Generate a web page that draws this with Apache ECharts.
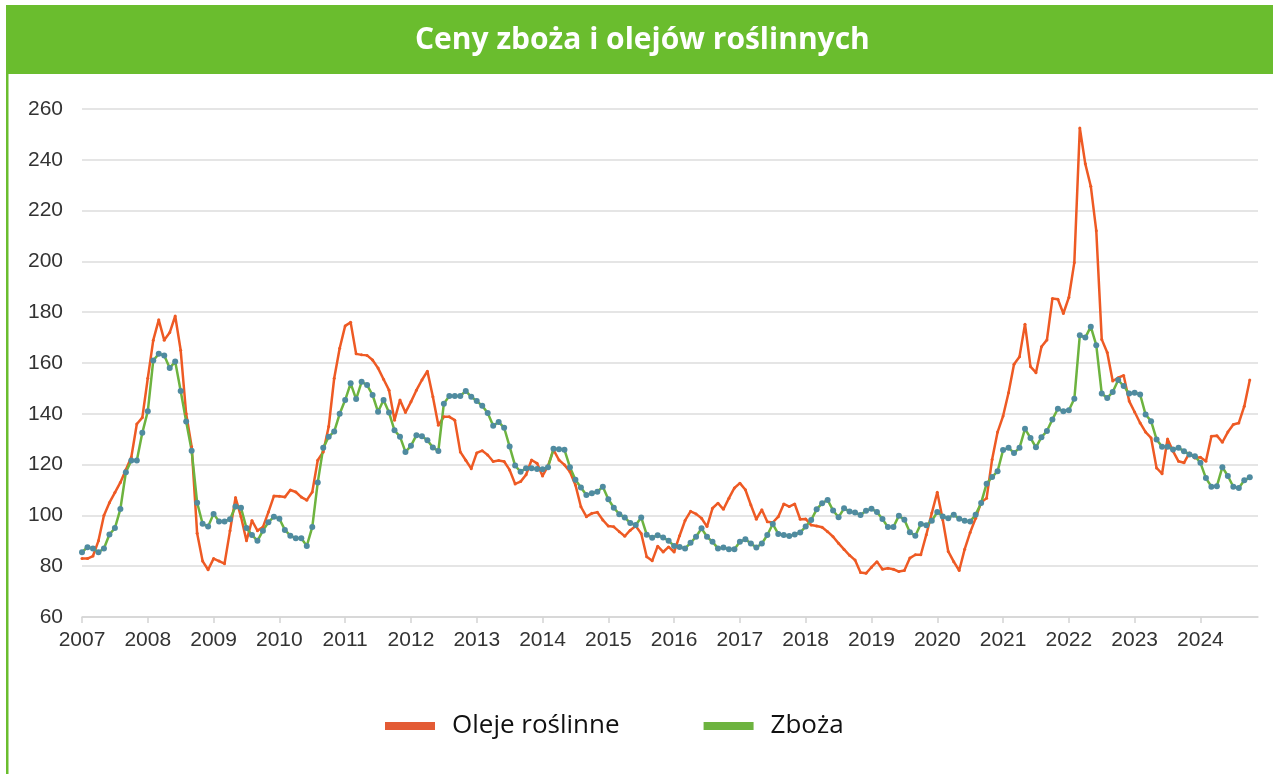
<!DOCTYPE html>
<html lang="pl">
<head>
<meta charset="utf-8">
<title>Ceny zboża i olejów roślinnych</title>
<script src="https://cdn.jsdelivr.net/npm/echarts@6.0.0/dist/echarts.min.js"></script>
<style>
  html, body { margin: 0; padding: 0; background: #fff; }
  #chart { width: 1273px; height: 774px; }
</style>
</head>
<body>
<div id="chart"></div>
<script>
// miesięczne indeksy cen, styczeń 2007 - październik 2024
const lata = [2007, 2008, 2009, 2010, 2011, 2012, 2013, 2014, 2015, 2016, 2017, 2018, 2019, 2020, 2021, 2022, 2023, 2024]

const oleje = [
  83, 83, 84, 90, 100, 105, 109, 113, 118, 123, 136, 138.5,
  154, 169, 177, 169, 172, 178.5, 165, 140, 127, 93, 82, 78.6,
  83, 82, 81, 94, 107, 99.5, 90, 98, 94, 95.4, 101.3, 107.6,
  107.5, 107.2, 110, 109.2, 107.2, 106, 109.2, 121.7, 125, 135, 154, 165.8,
  174.6, 176, 163.6, 163.2, 163, 161.2, 158, 153.6, 149.3, 137.5, 145.4, 140.5,
  144.7, 149.3, 153.3, 156.8, 146.7, 135.5, 138.8, 138.8, 137.5, 125, 121.7, 118.4,
  124.6, 125.5, 123.8, 121.2, 121.6, 121.2, 117.9, 112.4, 113.3, 116, 121.8, 120.5,
  115.5, 119.5, 125.8, 121.8, 119.9, 117.2, 112, 103.4, 99.5, 100.8, 101.2, 98.2,
  95.8, 95.5, 93.6, 91.8, 94.2, 95.8, 92.9, 83.7, 82.1, 87.9, 85.6, 87.6,
  85.6, 92, 98, 101.6, 100.6, 98.9, 95.6, 102.8, 104.8, 102.4, 106.8, 110.8,
  112.7, 110.1, 104.1, 98.5, 102.2, 97.5, 97.2, 99.5, 104.5, 103.5, 104.5, 98.5,
  98.6, 96.2, 95.8, 95.3, 93.6, 91.6, 89, 86.6, 84.3, 82.4, 77.5, 77.2,
  79.6, 81.8, 78.8, 79.2, 78.8, 77.9, 78.3, 83.2, 84.5, 84.5, 92.4, 100.9,
  109.1, 98.3, 85.8, 81.8, 78.3, 86.7, 93.3, 98.9, 105.1, 106.8, 122, 132.8,
  139.1, 148.3, 159.5, 162.5, 175.3, 158.6, 156.2, 166.4, 169.1, 185.4, 185.1, 179.5,
  185.8, 199.6, 252.5, 238.4, 229.6, 212.1, 169.3, 164.1, 152.9, 154.2, 155.1, 145,
  140.7, 136.4, 132.8, 130.5, 118.7, 116.4, 130.1, 125.3, 121.3, 120.7, 124.6, 122.6,
  122.9, 121.3, 131.2, 131.4, 128.8, 132.8, 135.8, 136.4, 143, 153.3
]

const zboza = [
  85.5, 87.5, 87, 85.5, 87, 92.5, 95, 102.5, 117, 121.6, 121.6, 132.5,
  141, 161, 163.6, 163, 158, 160.6, 149, 137, 125.5, 105, 96.7, 95.6,
  100.6, 97.6, 97.6, 98.5, 103.5, 103, 95, 92.3, 90, 94, 97.3, 99.5,
  98.7, 94.3, 92, 91, 91, 88, 95.4, 113, 126.6, 131, 133, 140,
  145.4, 152, 145.8, 152.6, 151.3, 147.4, 140.8, 145.4, 140.5, 133.5, 131, 125,
  127.4, 131.6, 131.2, 129.6, 126.7, 125.4, 144, 147, 147, 147, 149, 146.7,
  145, 143.2, 140.3, 135.3, 136.8, 134.5, 127.1, 119.6, 117.2, 118.6, 118.6, 118.3,
  118.2, 119, 126.2, 126, 125.8, 119, 114, 111, 108, 108.7, 109.3, 111.3,
  106.4, 103, 100.5, 99.2, 97, 96.2, 99.2, 92.4, 91.2, 92.2, 91.3, 90,
  88, 87.6, 87, 89.2, 91.6, 94.9, 91.6, 89.6, 87, 87.4, 86.7, 86.7,
  89.6, 90.6, 88.9, 87.4, 88.9, 92.3, 96.6, 92.7, 92.3, 91.9, 92.5, 93.3,
  95.6, 98.2, 102.4, 104.8, 106.1, 101.9, 99.3, 102.8, 101.5, 101.1, 100.2, 101.8,
  102.6, 101.3, 98.6, 95.4, 95.4, 99.9, 98.3, 93.4, 92, 96.6, 96.1, 97.9,
  101.3, 99.6, 98.9, 100.3, 98.7, 97.9, 97.6, 100.3, 104.9, 112.5, 115.1, 117.4,
  125.7, 126.6, 124.6, 126.6, 134.1, 130.5, 126.8, 130.8, 133.2, 137.8, 142, 141,
  141.4, 145.9, 170.9, 170, 174.3, 167, 148, 146.2, 148.6, 153.3, 150.9, 148,
  148.3, 147.6, 139.7, 137.1, 129.9, 127, 127, 125.9, 126.6, 125.3, 124, 123.3,
  120.7, 114.7, 111.3, 111.5, 119, 115.5, 111.3, 110.8, 113.8, 115
]

const kolorOleje = '#ee5a24'
const kolorZboza = '#6db33f'
const kolorPunkty = '#4f8ba0'

const chart = echarts.init(document.getElementById('chart'))

chart.setOption({
  animation: false,
  backgroundColor: '#fff',
  graphic: [
    { type: 'rect', z: 0, shape: { x: 6, y: 5, width: 1267, height: 69 }, style: { fill: '#6abd2e' } },
    { type: 'rect', z: 0, shape: { x: 6, y: 74, width: 2.5, height: 700 }, style: { fill: '#6abd2e' } }
  ],
  title: {
    text: 'Ceny zboża i olejów roślinnych',
    left: 410,
    top: 20,
    z: 10,
    textStyle: {
      color: '#fff',
      fontFamily: 'Open Sans',
      fontWeight: 'bold',
      fontSize: 30
    }
  },
  legend: {
    left: 380,
    top: 708,
    itemWidth: 50,
    itemHeight: 8,
    itemGap: 84,
    icon: 'rect',
    textStyle: {
      fontFamily: 'Open Sans',
      fontSize: 26,
      color: '#111',
      padding: [0, 0, 0, 12]
    },
    data: [
      { name: 'Oleje roślinne', itemStyle: { color: '#e35b35' } },
      { name: 'Zboża', itemStyle: { color: kolorZboza } }
    ]
  },
  grid: {
    left: 82,
    right: 15,
    top: 109,
    bottom: 157
  },
  xAxis: {
    type: 'value',
    min: 0,
    max: 214.5,
    interval: 12,
    axisLine: { lineStyle: { color: '#d4d4d4', width: 1.5 } },
    axisTick: { show: true, length: 6, lineStyle: { color: '#d4d4d4', width: 1.5 } },
    splitLine: { show: false },
    axisLabel: {
      showMaxLabel: false,
      margin: 13,
      color: '#333',
      fontFamily: 'Liberation Sans',
      fontSize: 21,
      formatter: v => lata[v / 12] !== undefined ? String(lata[v / 12]) : ''
    }
  },
  yAxis: {
    type: 'value',
    min: 60,
    max: 260,
    interval: 20,
    axisLine: { show: false },
    axisTick: { show: false },
    splitLine: { lineStyle: { color: '#dcdcdc', width: 1.5 } },
    axisLabel: {
      margin: 19,
      color: '#333',
      fontFamily: 'Liberation Sans',
      fontSize: 21
    }
  },
  series: [
    {
      name: 'Oleje roślinne',
      type: 'line',
      data: oleje.map((v, i) => [i, v]),
      symbol: 'circle',
      symbolSize: 3,
      lineStyle: { color: kolorOleje, width: 2.5 },
      itemStyle: { color: kolorOleje }
    },
    {
      name: 'Zboża',
      type: 'line',
      data: zboza.map((v, i) => [i, v]),
      symbol: 'circle',
      symbolSize: 6,
      lineStyle: { color: kolorZboza, width: 2.5 },
      itemStyle: { color: kolorPunkty, borderWidth: 0 }
    }
  ]
})
</script>
</body>
</html>
